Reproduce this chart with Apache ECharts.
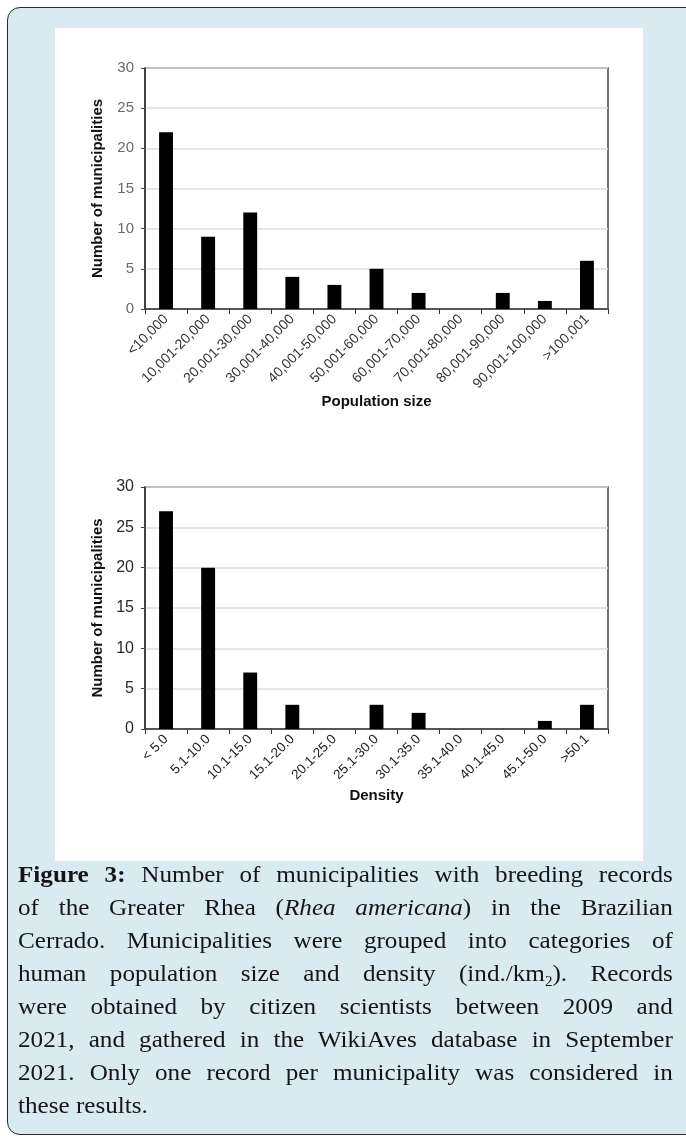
<!DOCTYPE html>
<html>
<head>
<meta charset="utf-8">
<script src="https://cdn.jsdelivr.net/npm/echarts@6/dist/echarts.min.js"></script>
<style>
  html, body { margin: 0; padding: 0; width: 686px; height: 1136px; overflow: hidden; background: #ffffff; }
  #frame { position: absolute; left: 7px; top: 7px; width: 700px; height: 1128px; box-sizing: border-box;
           border: 1.5px solid #2a2a2a; border-radius: 13px; background: #d7ebf0; }
  #panel { position: absolute; left: 55px; top: 28px; width: 588px; height: 833px; background: #ffffff; }
  #chart { position: absolute; left: 0; top: 0; width: 686px; height: 870px; }
  #caption { position: absolute; left: 18px; top: 858px; width: 612px; transform: scaleX(1.07); transform-origin: 0 0;
             font-family: "Liberation Serif", "Times New Roman", serif; font-size: 23.5px; line-height: 33px; color: #151515; }
  #caption div { white-space: nowrap; text-align: justify; text-align-last: justify; }
  #caption div.last { text-align-last: left; }
  #caption sub { font-size: 14px; vertical-align: -5px; line-height: 0; }
</style>
</head>
<body>
<div id="frame"></div>
<div id="panel"></div>
<div id="chart"></div>
<div id="caption">
  <div><b>Figure 3:</b> Number of municipalities with breeding records</div>
  <div>of the Greater Rhea (<i>Rhea americana</i>) in the Brazilian</div>
  <div>Cerrado. Municipalities were grouped into categories of</div>
  <div>human population size and density (ind./km<sub>2</sub>). Records</div>
  <div>were obtained by citizen scientists between 2009 and</div>
  <div>2021, and gathered in the WikiAves database in September</div>
  <div>2021. Only one record per municipality was considered in</div>
  <div class="last">these results.</div>
</div>
<script>
const popCategories = ['<10,000', '10,001-20,000', '20,001-30,000', '30,001-40,000', '40,001-50,000',
  '50,001-60,000', '60,001-70,000', '70,001-80,000', '80,001-90,000', '90,001-100,000', '>100,001'];
const popCounts = [22, 9, 12, 4, 3, 5, 2, 0, 2, 1, 6];

const densityCategories = ['< 5.0', '5.1-10.0', '10.1-15.0', '15.1-20.0', '20.1-25.0', '25.1-30.0',
  '30.1-35.0', '35.1-40.0', '40.1-45.0', '45.1-50.0', '>50.1'];
const densityCounts = [27, 20, 7, 3, 0, 3, 2, 0, 0, 1, 3];

const yMin = 0, yMax = 30, yStep = 5;
const yAxisTitle = 'Number of municipalities';
const xTitles = ['Population size', 'Density'];

const chart = echarts.init(document.getElementById('chart'), null, { renderer: 'canvas' });
const FONT = 'Liberation Sans, Arial, sans-serif';

function xAxisDef(idx, cats, name, color, size, gap) {
  return {
    type: 'category', gridIndex: idx, data: cats,
    name: name, nameLocation: 'middle', nameGap: gap, nameMoveOverlap: false,
    nameTextStyle: { fontFamily: FONT, fontWeight: 'bold', fontSize: 15, color: '#111' },
    axisLine: { show: true, lineStyle: { color: '#333', width: 1.5 } },
    axisTick: { show: true, interval: 0, alignWithLabel: false, length: 5, lineStyle: { color: '#333' } },
    axisLabel: { interval: 0, rotate: 45, margin: 8, fontFamily: FONT, fontSize: size, color: color },
    splitLine: { show: false }
  };
}
function yAxisDef(idx, color, size) {
  return {
    type: 'value', gridIndex: idx, min: yMin, max: yMax, interval: yStep,
    name: yAxisTitle, nameLocation: 'middle', nameGap: 40, nameMoveOverlap: false,
    nameTextStyle: { fontFamily: FONT, fontWeight: 'bold', fontSize: 15, color: '#111' },
    axisLine: { show: true, lineStyle: { color: '#333', width: 1.5 } },
    axisTick: { show: true, length: 4, lineStyle: { color: '#444' } },
    axisLabel: { margin: 11, fontFamily: FONT, fontSize: size, color: color },
    splitLine: { show: true, lineStyle: { color: '#dcdcdc', width: 1.5 } }
  };
}

chart.setOption({
  animation: false,
  backgroundColor: 'transparent',
  grid: [
    { left: 145, top: 68, width: 463, height: 241, show: true, borderColor: '#444', borderWidth: 1.5, backgroundColor: 'transparent' },
    { left: 145, top: 487, width: 463, height: 242, show: true, borderColor: '#444', borderWidth: 1.5, backgroundColor: 'transparent' }
  ],
  xAxis: [
    xAxisDef(0, popCategories, xTitles[0], '#333', 14, 85),
    xAxisDef(1, densityCategories, xTitles[1], '#222', 13.5, 59)
  ],
  yAxis: [
    yAxisDef(0, '#6a6a6a', 15),
    yAxisDef(1, '#2a2a2a', 16)
  ],
  series: [
    { type: 'bar', xAxisIndex: 0, yAxisIndex: 0, data: popCounts, barWidth: '33%', itemStyle: { color: '#000' } },
    { type: 'bar', xAxisIndex: 1, yAxisIndex: 1, data: densityCounts, barWidth: '33%', itemStyle: { color: '#000' } }
  ]
});
</script>
</body>
</html>
